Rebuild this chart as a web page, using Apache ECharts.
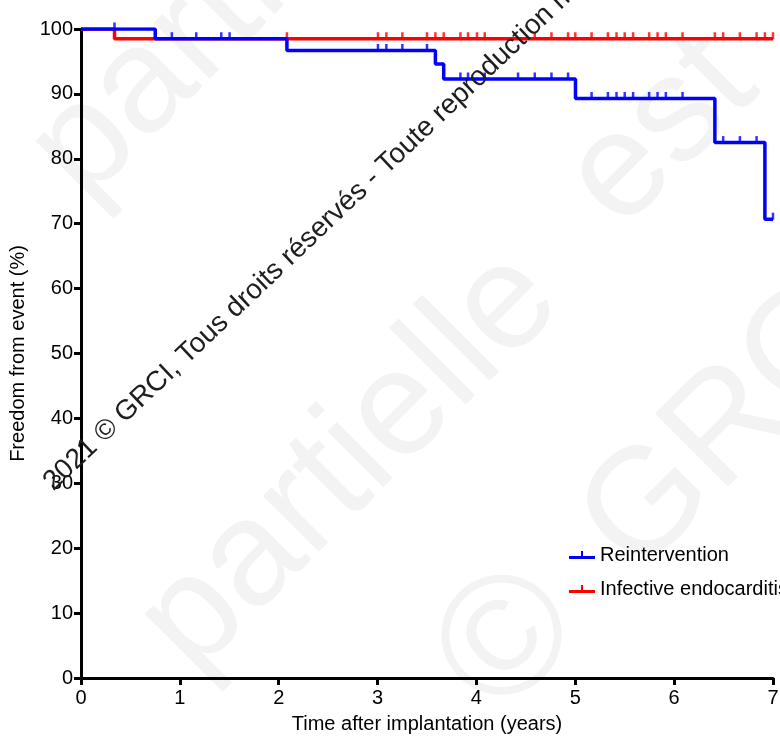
<!DOCTYPE html>
<html>
<head>
<meta charset="utf-8">
<script src="https://cdn.jsdelivr.net/npm/echarts@6/dist/echarts.min.js"></script>
<style>
  html, body { margin: 0; padding: 0; background: #fff; }
  #chart { width: 780px; height: 737px; }
</style>
</head>
<body>
<div id="chart"></div>
<script>
// Kaplan-Meier steps (years, % free from event)
var reintTimes = [0, 0.751, 2.083, 3.585, 3.669, 5.002, 6.412, 6.918, 7];
var reintFree = [100, 98.5, 96.7, 94.6, 92.3, 89.3, 82.5, 70.7, 70.7];
var reintCensored = [0.339, 0.919, 1.166, 1.419, 1.503, 3.004, 3.089, 3.251, 3.5,
  3.838, 3.915, 4.084, 4.421, 4.59, 4.759, 4.927, 5.165, 5.33, 5.417, 5.5, 5.585,
  5.747, 5.832, 5.916, 6.085, 6.496, 6.665, 6.834, 7.0];

var ieTimes = [0, 0.339, 7];
var ieFree = [100, 98.5, 98.5];
var ieCensored = [2.083, 3.004, 3.089, 3.251, 3.5, 3.585, 3.669, 3.838, 3.915, 4.006,
  4.084, 4.59, 4.759, 4.927, 5.0, 5.165, 5.33, 5.417, 5.5, 5.585, 5.747, 5.832, 5.916,
  6.085, 6.412, 6.496, 6.665, 6.834, 6.918, 7.0];

var xTicks = [0, 1, 2, 3, 4, 5, 6, 7];
var yTicks = [0, 10, 20, 30, 40, 50, 60, 70, 80, 90, 100];

var FONT = 'Liberation Sans, Arial, sans-serif';

function stepPairs(times, vals) {
  var out = [];
  for (var i = 0; i < times.length; i++) out.push([times[i], vals[i]]);
  return out;
}

// y of the curve at a censor time
function censorPairs(censored, times, vals) {
  return censored.map(function (t) {
    var v = vals[0];
    for (var i = 0; i < times.length; i++) {
      if (times[i] <= t) v = vals[i];
    }
    return [t, v];
  });
}

var tickIcon = 'path://M0,7 L26,7 L26,10 L0,10 Z M12,2 L14,2 L14,8 L12,8 Z';

function faint(text, x, y, size) {
  return { type: 'text', x: x, y: y, rotation: Math.PI / 4, z: -1, silent: true,
    style: { text: text, fill: '#f3f3f3', fontSize: size, fontFamily: FONT, align: 'center', verticalAlign: 'middle' } };
}

var myChart = echarts.init(document.getElementById('chart'), null, { renderer: 'canvas' });

var option = {
  animation: false,
  backgroundColor: '#fff',
  textStyle: { fontFamily: FONT },
  grid: { left: 81, right: 7, top: 29, bottom: 59, outerBoundsMode: 'none', containLabel: false },
  legend: {
    orient: 'vertical',
    left: 564,
    top: 540,
    itemWidth: 26,
    itemHeight: 10,
    itemGap: 14,
    textStyle: { fontSize: 20, color: '#000', fontFamily: FONT, lineHeight: 20 },
    data: [
      { name: 'Reintervention', icon: tickIcon },
      { name: 'Infective endocarditis', icon: tickIcon }
    ]
  },
  xAxis: {
    type: 'value',
    min: 0,
    max: 7,
    interval: 1,
    name: 'Time after implantation (years)',
    nameLocation: 'middle',
    nameGap: 36,
    nameTextStyle: { fontSize: 20, color: '#000', fontFamily: FONT },
    axisLine: { show: true, lineStyle: { color: '#000', width: 3 } },
    axisTick: { show: true, length: 7, lineStyle: { color: '#000', width: 3 } },
    axisLabel: { fontSize: 20, color: '#000', margin: 10, fontFamily: FONT,
      formatter: function (v) { return xTicks.indexOf(v) >= 0 ? String(v) : ''; } },
    splitLine: { show: false }
  },
  yAxis: {
    type: 'value',
    min: 0,
    max: 100,
    interval: 10,
    name: 'Freedom from event (%)',
    nameLocation: 'middle',
    nameGap: 48,
    nameTextStyle: { fontSize: 20, color: '#000', fontFamily: FONT },
    axisLine: { show: true, lineStyle: { color: '#000', width: 3 } },
    axisTick: { show: true, length: 7, lineStyle: { color: '#000', width: 3 } },
    axisLabel: { fontSize: 20, color: '#000', margin: 8, fontFamily: FONT,
      formatter: function (v) { return yTicks.indexOf(v) >= 0 ? String(v) : ''; } },
    splitLine: { show: false }
  },
  graphic: [
    // faint background watermark
    faint('partielle', 241, -11, 150),
    faint('partielle', 350, 462, 150),
    faint('est', 662, 132, 150),
    faint('©', 510, 643, 170),
    faint('GRCI', 740, 416, 150),
    // dark diagonal copyright line
    { type: 'text', x: 48, y: 486, rotation: 43.5 * Math.PI / 180, z: 100, silent: true,
      style: { text: '2021 © GRCI, Tous droits réservés - Toute reproduction même partielle est interdite',
        fill: '#1e1e1e', fontSize: 28, fontFamily: FONT, align: 'left', verticalAlign: 'middle' } }
  ],
  series: [
    {
      name: 'Infective endocarditis',
      type: 'line',
      step: 'end',
      symbol: 'none',
      color: '#ff0000',
      lineStyle: { color: '#ff0000', width: 3.5 },
      z: 3,
      data: stepPairs(ieTimes, ieFree)
    },
    {
      name: 'ie-censored',
      type: 'scatter',
      symbol: 'rect',
      symbolSize: [2.5, 7],
      symbolOffset: [0, -3],
      itemStyle: { color: '#ff0000' },
      z: 3,
      data: censorPairs(ieCensored, ieTimes, ieFree)
    },
    {
      name: 'Reintervention',
      type: 'line',
      step: 'end',
      symbol: 'none',
      color: '#0000ff',
      lineStyle: { color: '#0000ff', width: 3.5 },
      z: 4,
      data: stepPairs(reintTimes, reintFree)
    },
    {
      name: 'reint-censored',
      type: 'scatter',
      symbol: 'rect',
      symbolSize: [2.5, 7],
      symbolOffset: [0, -3],
      itemStyle: { color: '#0000ff' },
      z: 4,
      data: censorPairs(reintCensored, reintTimes, reintFree)
    }
  ]
};

myChart.setOption(option);
</script>
</body>
</html>
